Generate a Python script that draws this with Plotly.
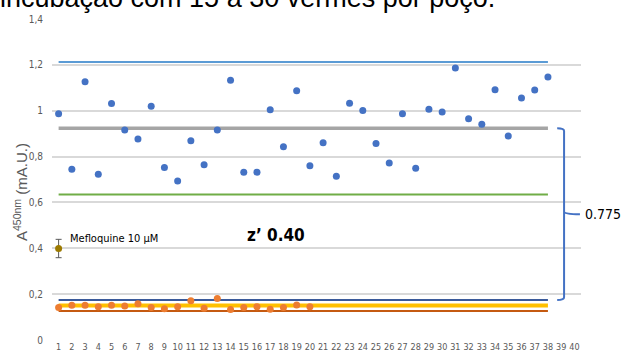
import plotly.graph_objects as go

wells_pos = list(range(1, 39))
pos_values = [0.987, 0.745, 1.126, 0.723, 1.032, 0.916, 0.877, 1.020, 0.752, 0.693,
              0.869, 0.764, 0.916, 1.133, 0.732, 0.732, 1.004, 0.843, 1.087, 0.760,
              0.860, 0.714, 1.033, 1.001, 0.857, 0.772, 0.987, 0.749, 1.006, 0.994,
              1.186, 0.965, 0.941, 1.091, 0.890, 1.055, 1.090, 1.147]
wells_neg = list(range(1, 21))
neg_values = [0.142, 0.152, 0.152, 0.145, 0.152, 0.148, 0.158, 0.142, 0.136, 0.145,
              0.171, 0.138, 0.181, 0.133, 0.142, 0.145, 0.134, 0.142, 0.153, 0.145]
mef_x = [1]
mef_y = [0.399]
mef_err = [0.040]

# reference lines: (value, colour, width)
ref_lines = {
    "pos_plus3sd": (1.213, "#5B9BD5", 2),
    "pos_mean": (0.923, "#A5A5A5", 3.5),
    "pos_minus3sd": (0.635, "#70AD47", 2),
    "neg_plus3sd": (0.174, "#3A5A9A", 2),
    "neg_mean": (0.151, "#FFC000", 4),
    "neg_minus3sd": (0.127, "#C55A11", 2),
}
line_span = [1, 38]
x_ticks = list(range(1, 41))
y_ticks = [0, 0.2, 0.4, 0.6, 0.8, 1.0, 1.2, 1.4]
window = 0.775
zprime = "z’ 0.40"

COND = "DejaVu Sans Condensed, Liberation Sans Narrow, Arial Narrow, sans-serif"

fig = go.Figure()
for name, (v, c, w) in ref_lines.items():
    fig.add_trace(go.Scatter(x=line_span, y=[v, v], mode="lines",
                             line=dict(color=c, width=w), hoverinfo="skip", showlegend=False))

fig.add_trace(go.Scatter(x=wells_pos, y=pos_values, mode="markers",
                         marker=dict(color="#4472C4", size=7), showlegend=False))
fig.add_trace(go.Scatter(x=wells_neg, y=neg_values, mode="markers",
                         marker=dict(color="#ED7D31", size=7), showlegend=False))
fig.add_trace(go.Scatter(x=mef_x, y=mef_y, mode="markers",
                         marker=dict(color="#9C7A00", size=7),
                         error_y=dict(type="data", array=mef_err, color="#595959",
                                      thickness=1, width=3),
                         showlegend=False))

top = ref_lines["pos_mean"][0]
bot = ref_lines["neg_plus3sd"][0]
mid = (top + bot) / 2
xv, xh, xt = 0.968, 0.955, 0.998
bracket_path = (f"M {xh},{top} Q {xv},{top} {xv},{top-0.012} L {xv},{mid+0.012} "
                f"Q {xv},{mid} {xt},{mid} M {xv},{mid-0.012} L {xv},{bot+0.012} "
                f"Q {xv},{bot} {xh},{bot} M {xv},{mid+0.012} Q {xv},{mid} {xv},{mid-0.012}")
fig.add_shape(type="path", xref="paper", yref="y", path=bracket_path,
              line=dict(color="#4472C4", width=2))

fig.add_annotation(x=1.003, xref="paper", y=mid, yref="y", text=f"{window}",
                   showarrow=False, xanchor="left", yanchor="middle",
                   font=dict(family=COND, size=14, color="#000000"))
fig.add_annotation(x=0.423, xref="paper", y=0.46, yref="y", text=f"<b>{zprime}</b>",
                   showarrow=False, xanchor="center", yanchor="middle",
                   font=dict(family=COND, size=17, color="#000000"))
fig.add_annotation(x=1.71, xref="x", y=0.443, yref="y", text="Mefloquine 10 µM",
                   showarrow=False, xanchor="left", yanchor="middle",
                   font=dict(family=COND, size=11, color="#000000"))
fig.add_annotation(x=-0.0605, xref="paper", y=0.461, yref="paper",
                   text="A<sup>450nm</sup> (mA.U.)", textangle=-90, showarrow=False,
                   xanchor="center", yanchor="middle",
                   font=dict(family="Liberation Sans, Arial", size=15, color="#595959"))
fig.add_annotation(x=-0.103, xref="paper", y=1.064, yref="paper",
                   text="incubação com 15 a 30 vermes por poço.", showarrow=False,
                   xanchor="left", yanchor="middle",
                   font=dict(family="Liberation Sans, Arial", size=27, color="#000000"))

fig.update_layout(
    width=621, height=363,
    margin=dict(l=52, r=40, t=19, b=23),
    paper_bgcolor="white", plot_bgcolor="white",
    separators=",.",
    xaxis=dict(range=[0.5, 40.5], tickvals=x_ticks, ticktext=[str(t) for t in x_ticks],
               showgrid=False, zeroline=False, showline=False, ticks="", tickangle=0,
               tickfont=dict(family=COND, size=9, color="#595959")),
    yaxis=dict(range=[0, 1.4], tickvals=y_ticks, showgrid=True, gridcolor="#D9D9D9",
               gridwidth=1.5, zeroline=False, showline=False, ticks="", ticklabelstandoff=8,
               tickfont=dict(family=COND, size=10, color="#595959")),
)
fig.write_html("out.html", config={"displayModeBar": False},
               post_script="document.body.style.margin='0';")
